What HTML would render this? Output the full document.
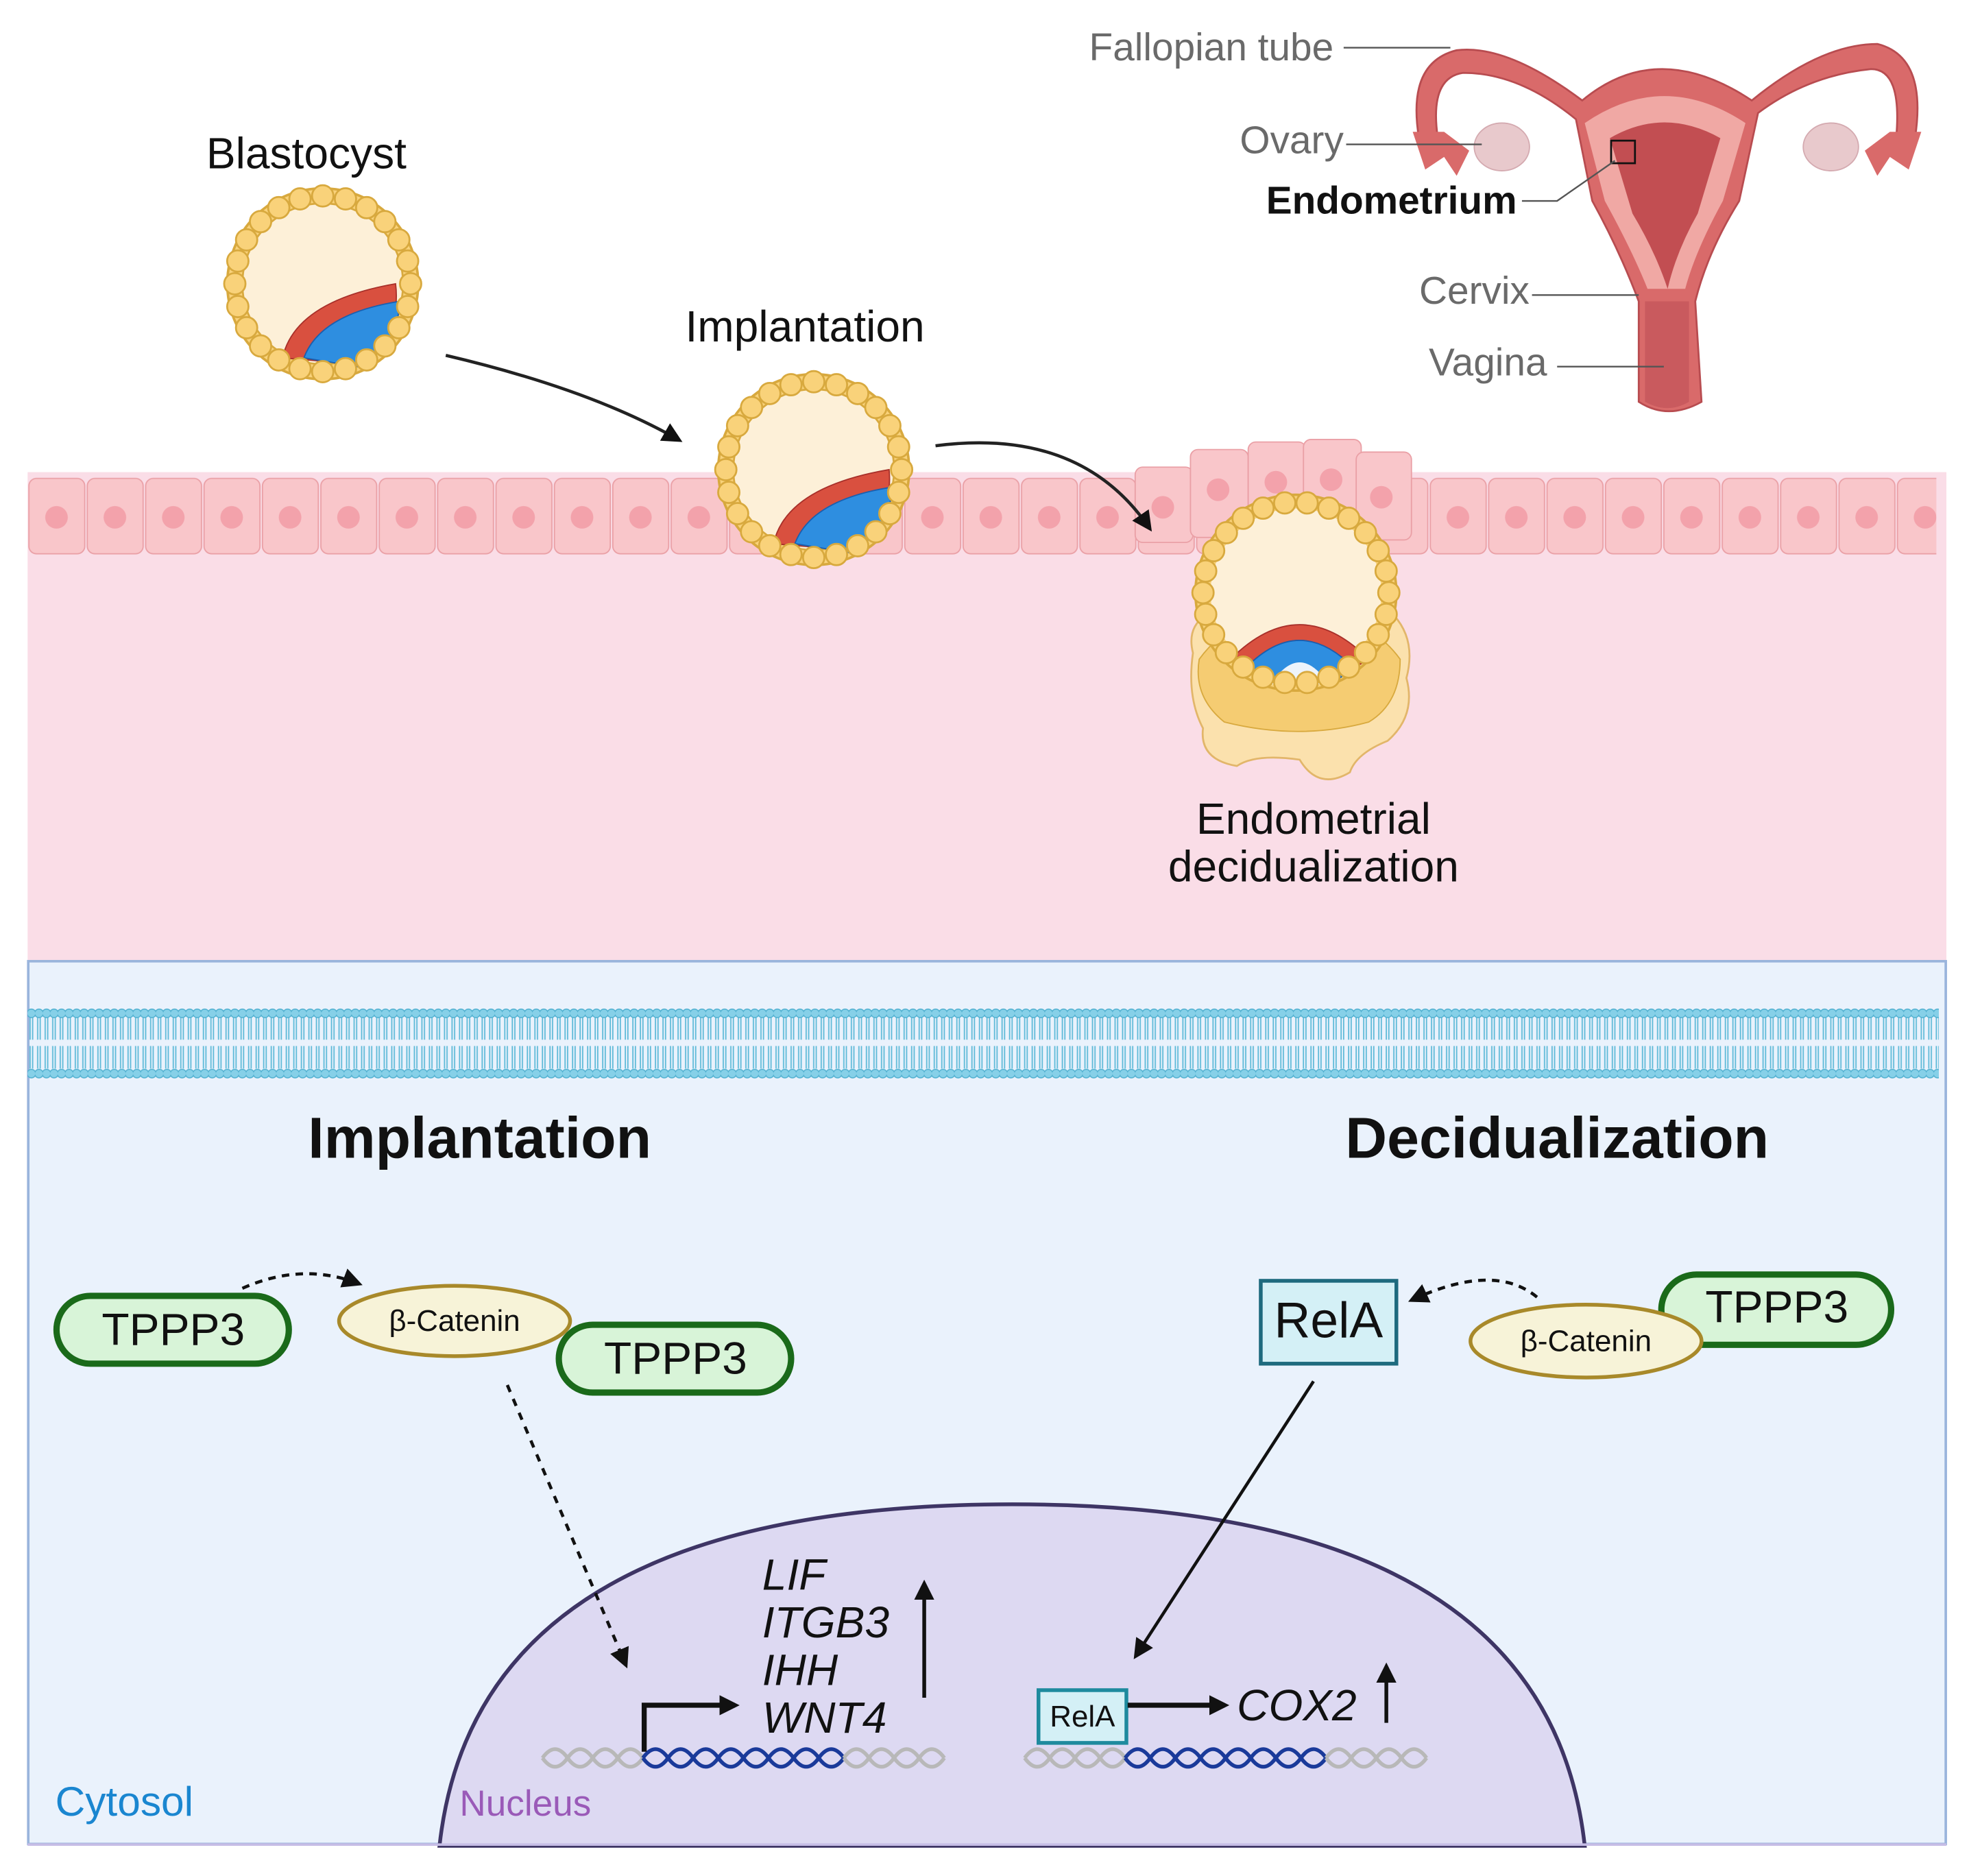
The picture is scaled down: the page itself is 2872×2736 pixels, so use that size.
<!DOCTYPE html>
<html><head><meta charset="utf-8"><style>html,body{margin:0;padding:0;background:#fff}svg{display:block}text{font-family:"Liberation Sans",Arial,sans-serif}</style></head>
<body>
<svg id="s" width="2872" height="2736" viewBox="0 0 1568 1494" preserveAspectRatio="none" xmlns="http://www.w3.org/2000/svg">
<defs>
<pattern id="mem" x="22" y="800" width="6" height="62" patternUnits="userSpaceOnUse">
<line x1="2" y1="10" x2="2" y2="28" stroke="#5fbad8" stroke-width="1"/>
<line x1="4" y1="10" x2="4" y2="28" stroke="#5fbad8" stroke-width="1"/>
<line x1="2" y1="33" x2="2" y2="51" stroke="#5fbad8" stroke-width="1"/>
<line x1="4" y1="33" x2="4" y2="51" stroke="#5fbad8" stroke-width="1"/>
<circle cx="3" cy="7" r="3.4" fill="#86d0e8" stroke="#4fb0d0" stroke-width="0.8"/>
<circle cx="3" cy="55" r="3.4" fill="#86d0e8" stroke="#4fb0d0" stroke-width="0.8"/>
</pattern>
<pattern id="cells" x="22" y="378" width="46.5" height="70" patternUnits="userSpaceOnUse">
<rect x="1" y="3" width="44.5" height="60" rx="6" fill="#f9c6ca" stroke="#eaa0a6" stroke-width="1"/>
<circle cx="23" cy="34" r="9" fill="#f3a2ab"/>
</pattern>
<marker id="ahb" markerWidth="16" markerHeight="16" refX="12" refY="8" orient="auto" markerUnits="userSpaceOnUse"><path d="M0,0 L16,8 L0,16 Z" fill="#111"/></marker>
</defs>

<rect x="22" y="376" width="1528" height="390" fill="#fadde7"/>
<rect x="22" y="378" width="1520" height="64" fill="url(#cells)"/>
<g fill="#f9c6ca" stroke="#eaa0a6">
<rect x="904" y="372" width="46" height="60" rx="6"/>
<rect x="948" y="358" width="46" height="70" rx="6"/>
<rect x="994" y="352" width="46" height="66" rx="6"/>
<rect x="1038" y="350" width="46" height="66" rx="6"/>
<rect x="1080" y="360" width="44" height="70" rx="6"/>
</g>
<g fill="#f3a2ab"><circle cx="926" cy="404" r="9"/><circle cx="970" cy="390" r="9"/><circle cx="1016" cy="384" r="9"/><circle cx="1060" cy="382" r="9"/><circle cx="1100" cy="396" r="9"/></g>

<g id="b1">
<circle cx="257" cy="226" r="76" fill="#f9d27a" stroke="#d8a93e" stroke-width="2"/>
<circle cx="257" cy="226" r="64" fill="#fdf0d8" stroke="#d8a93e" stroke-width="1.5"/>
<path d="M225,285 Q235,240 315,226 Q320,265 285,290 Z" fill="#d9503f" stroke="#a8302a"/>
<path d="M242,285 Q255,250 318,240 Q318,275 285,292 Z" fill="#2e8ee0" stroke="#1a5fb0"/>
</g>
<g id="b2">
<circle cx="648" cy="374" r="76" fill="#f9d27a" stroke="#d8a93e" stroke-width="2"/>
<circle cx="648" cy="374" r="64" fill="#fdf0d8" stroke="#d8a93e" stroke-width="1.5"/>
<path d="M616,433 Q626,388 708,374 Q712,413 676,438 Z" fill="#d9503f" stroke="#a8302a"/>
<path d="M633,433 Q646,398 710,388 Q710,423 676,440 Z" fill="#2e8ee0" stroke="#1a5fb0"/>
</g>
<g id="b3">
<path d="M950,520 Q945,500 960,490 L1110,490 Q1128,510 1120,540 Q1128,570 1105,590 Q1080,600 1075,615 Q1050,630 1035,605 Q1000,600 985,610 Q955,605 958,580 Q945,555 950,520 Z" fill="#fbe1ad" stroke="#e2b66a" stroke-width="1.5"/>
<path d="M955,525 Q980,490 1033,485 Q1090,490 1115,525 Q1115,560 1090,575 Q1035,590 975,575 Q950,555 955,525 Z" fill="#f5cc72" stroke="#d8a93e"/>
<ellipse cx="1032" cy="472" rx="80" ry="78" fill="#f9d27a" stroke="#d8a93e" stroke-width="2"/>
<ellipse cx="1032" cy="472" rx="68" ry="67" fill="#fdf0d8"/>
<path d="M980,525 Q1035,470 1090,525 L1078,532 Q1035,488 992,532 Z" fill="#d9503f" stroke="#a8302a"/>
<path d="M992,532 Q1035,488 1078,532 L1060,545 Q1035,520 1010,545 Z" fill="#2e8ee0" stroke="#1a5fb0"/>
<path d="M1012,545 Q1035,510 1058,545 Z" fill="#eef4fb"/>
</g>

<path d="M355,283 Q470,310 540,350" fill="none" stroke="#222" stroke-width="2.5" marker-end="url(#ahb)"/>
<path d="M745,355 Q860,340 915,420" fill="none" stroke="#222" stroke-width="2.5" marker-end="url(#ahb)"/>

<text x="244" y="134" font-size="35" text-anchor="middle" fill="#111">Blastocyst</text>
<text x="641" y="272" font-size="35" text-anchor="middle" fill="#111">Implantation</text>
<text x="1046" y="664" font-size="35" text-anchor="middle" fill="#111">Endometrial</text>
<text x="1046" y="702" font-size="35" text-anchor="middle" fill="#111">decidualization</text>

<g>
<path d="M1130,110 Q1120,50 1160,40 Q1200,35 1260,80 Q1320,30 1395,80 Q1450,35 1495,35 Q1535,45 1525,110 L1510,110 Q1515,55 1490,55 Q1440,60 1400,90 L1385,160 Q1360,200 1350,240 L1355,320 Q1328,335 1305,320 L1305,240 Q1290,200 1268,160 L1255,95 Q1210,58 1165,58 Q1138,62 1145,110 Z" fill="#d96a6a" stroke="#b84c50" stroke-width="1.5"/>
<path d="M1262,98 Q1325,55 1390,98 L1372,160 Q1350,200 1342,230 L1312,230 Q1300,200 1278,160 Z" fill="#f0a8a4"/>
<path d="M1282,110 Q1325,85 1370,110 L1352,170 Q1335,200 1328,230 Q1318,200 1300,170 Z" fill="#c24e52"/>
<path d="M1310,240 L1345,240 L1345,320 Q1328,330 1310,320 Z" fill="#c95a5e"/>
<ellipse cx="1196" cy="117" rx="22" ry="19" fill="#e8c9cc" stroke="#d4aab0"/>
<ellipse cx="1458" cy="117" rx="22" ry="19" fill="#e8c9cc" stroke="#d4aab0"/>
<path d="M1125,105 L1135,135 L1150,125 L1160,140 L1170,120 L1150,105 Z" fill="#d96a6a"/>
<path d="M1530,105 L1520,135 L1505,125 L1495,140 L1485,120 L1505,105 Z" fill="#d96a6a"/>
<rect x="1283" y="112" width="19" height="18" fill="none" stroke="#111" stroke-width="1.5"/>
</g>
<g stroke="#555" stroke-width="1.3" fill="none">
<line x1="1070" y1="38" x2="1155" y2="38"/>
<line x1="1072" y1="115" x2="1180" y2="115"/>
<polyline points="1212,160 1240,160 1286,128"/>
<line x1="1220" y1="235" x2="1305" y2="235"/>
<line x1="1240" y1="292" x2="1325" y2="292"/>
</g>
<g font-size="31" fill="#6a6a6a" text-anchor="end">
<text x="1062" y="48">Fallopian tube</text>
<text x="1070" y="122">Ovary</text>
<text x="1218" y="242">Cervix</text>
<text x="1232" y="299">Vagina</text>
</g>
<text x="1208" y="170" font-size="31" font-weight="bold" text-anchor="end" fill="#111">Endometrium</text>

<rect x="22.5" y="765.5" width="1527" height="703" fill="#eaf2fc" stroke="#9ab4dc" stroke-width="2"/>
<rect x="22" y="800" width="1522" height="62" fill="url(#mem)"/>
<path d="M350,1470 Q380,1198 806,1198 Q1232,1198 1262,1470 Z" fill="#ddd9f2" stroke="#3e3565" stroke-width="3"/>
<line x1="22" y1="1469" x2="1550" y2="1469" stroke="#c6bde6" stroke-width="2"/>

<text x="382" y="922" font-size="46" font-weight="bold" text-anchor="middle" fill="#111">Implantation</text>
<text x="1240" y="922" font-size="46" font-weight="bold" text-anchor="middle" fill="#111">Decidualization</text>

<rect x="45" y="1032" width="185" height="54" rx="27" fill="#d8f4d8" stroke="#1a6a1a" stroke-width="5"/>
<text x="138" y="1071" font-size="36" text-anchor="middle" fill="#111">TPPP3</text>
<ellipse cx="362" cy="1052" rx="92" ry="28" fill="#f7f3d8" stroke="#a8892a" stroke-width="3"/>
<text x="362" y="1060" font-size="24" text-anchor="middle" fill="#111">β-Catenin</text>
<rect x="445" y="1055" width="185" height="54" rx="27" fill="#d8f4d8" stroke="#1a6a1a" stroke-width="5"/>
<text x="538" y="1094" font-size="36" text-anchor="middle" fill="#111">TPPP3</text>
<path d="M193,1026 Q240,1005 285,1022" fill="none" stroke="#111" stroke-width="2.5" stroke-dasharray="6,5" marker-end="url(#ahb)"/>
<line x1="404" y1="1103" x2="498" y2="1325" stroke="#111" stroke-width="2.5" stroke-dasharray="6,6" marker-end="url(#ahb)"/>

<rect x="1323" y="1015" width="183" height="56" rx="28" fill="#d8f4d8" stroke="#1a6a1a" stroke-width="5"/>
<text x="1415" y="1053" font-size="36" text-anchor="middle" fill="#111">TPPP3</text>
<ellipse cx="1263" cy="1068" rx="92" ry="29" fill="#f7f3d8" stroke="#a8892a" stroke-width="3"/>
<text x="1263" y="1076" font-size="24" text-anchor="middle" fill="#111">β-Catenin</text>
<rect x="1004" y="1020" width="108" height="66" fill="#d4f0f6" stroke="#1e6a7e" stroke-width="3"/>
<text x="1058" y="1065" font-size="40" text-anchor="middle" fill="#111">RelA</text>
<path d="M1224,1033 Q1190,1005 1125,1035" fill="none" stroke="#111" stroke-width="2.5" stroke-dasharray="6,5" marker-end="url(#ahb)"/>
<line x1="1046" y1="1100" x2="905" y2="1318" stroke="#111" stroke-width="2.5" marker-end="url(#ahb)"/>

<g fill="none" stroke-width="3">
<path d="M432,1400 q10,-14 20,0 q10,14 20,0 q10,-14 20,0 q10,14 20,0" stroke="#b8b8b8"/>
<path d="M432,1400 q10,14 20,0 q10,-14 20,0 q10,14 20,0 q10,-14 20,0" stroke="#b8b8b8"/>
<path d="M512,1400 q10,-14 20,0 q10,14 20,0 q10,-14 20,0 q10,14 20,0 q10,-14 20,0 q10,14 20,0 q10,-14 20,0 q10,14 20,0" stroke="#1a3a9a"/>
<path d="M512,1400 q10,14 20,0 q10,-14 20,0 q10,14 20,0 q10,-14 20,0 q10,14 20,0 q10,-14 20,0 q10,14 20,0 q10,-14 20,0" stroke="#1a3a9a"/>
<path d="M672,1400 q10,-14 20,0 q10,14 20,0 q10,-14 20,0 q10,14 20,0" stroke="#b8b8b8"/>
<path d="M672,1400 q10,14 20,0 q10,-14 20,0 q10,14 20,0 q10,-14 20,0" stroke="#b8b8b8"/>
</g>
<polyline points="513,1395 513,1358 585,1358" fill="none" stroke="#111" stroke-width="4" marker-end="url(#ahb)"/>
<g font-size="35" font-style="italic" fill="#111">
<text x="607" y="1266">LIF</text>
<text x="607" y="1304">ITGB3</text>
<text x="607" y="1342">IHH</text>
<text x="607" y="1380">WNT4</text>
</g>
<line x1="736" y1="1352" x2="736" y2="1262" stroke="#111" stroke-width="3" marker-end="url(#ahb)"/>

<g fill="none" stroke-width="3">
<path d="M816,1400 q10,-14 20,0 q10,14 20,0 q10,-14 20,0 q10,14 20,0" stroke="#b8b8b8"/>
<path d="M816,1400 q10,14 20,0 q10,-14 20,0 q10,14 20,0 q10,-14 20,0" stroke="#b8b8b8"/>
<path d="M896,1400 q10,-14 20,0 q10,14 20,0 q10,-14 20,0 q10,14 20,0 q10,-14 20,0 q10,14 20,0 q10,-14 20,0 q10,14 20,0" stroke="#1a3a9a"/>
<path d="M896,1400 q10,14 20,0 q10,-14 20,0 q10,14 20,0 q10,-14 20,0 q10,14 20,0 q10,-14 20,0 q10,14 20,0 q10,-14 20,0" stroke="#1a3a9a"/>
<path d="M1056,1400 q10,-14 20,0 q10,14 20,0 q10,-14 20,0 q10,14 20,0" stroke="#b8b8b8"/>
<path d="M1056,1400 q10,14 20,0 q10,-14 20,0 q10,14 20,0 q10,-14 20,0" stroke="#b8b8b8"/>
</g>
<rect x="827" y="1346" width="70" height="42" fill="#d4f0f6" stroke="#1e8a9e" stroke-width="3"/>
<text x="862" y="1375" font-size="24" text-anchor="middle" fill="#111">RelA</text>
<line x1="898" y1="1358" x2="975" y2="1358" stroke="#111" stroke-width="4" marker-end="url(#ahb)"/>
<text x="985" y="1370" font-size="35" font-style="italic" fill="#111">COX2</text>
<line x1="1104" y1="1372" x2="1104" y2="1328" stroke="#111" stroke-width="3" marker-end="url(#ahb)"/>

<text x="44" y="1446" font-size="33" fill="#1a86d0">Cytosol</text>
<text x="366" y="1446" font-size="29" fill="#9a5ab8">Nucleus</text>
<g id="beads"></g>
</svg>
<script>
(function(){var ns="http://www.w3.org/2000/svg",g=document.getElementById("beads");
[[257,226,70,70,24],[648,374,70,70,24],[1032,472,74,72,26]].forEach(function(b){for(var i=0;i<b[4];i++){var a=i/b[4]*Math.PI*2,c=document.createElementNS(ns,"circle");c.setAttribute("cx",b[0]+b[2]*Math.cos(a));c.setAttribute("cy",b[1]+b[3]*Math.sin(a));c.setAttribute("r",8.5);c.setAttribute("fill","#f9d27a");c.setAttribute("stroke","#d8a93e");c.setAttribute("stroke-width","1.5");g.appendChild(c);}});})();
</script>
</body></html>
